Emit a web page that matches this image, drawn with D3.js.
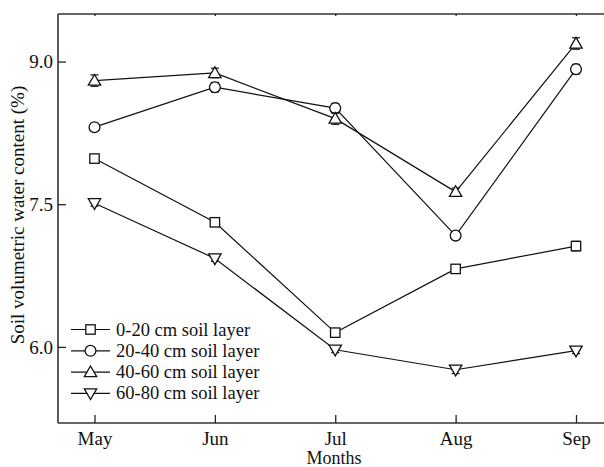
<!DOCTYPE html>
<html><head><meta charset="utf-8">
<script src="https://cdn.jsdelivr.net/npm/d3@7"></script>
<style>body{margin:0;background:#fff}svg{display:block}svg text{font-family:"Liberation Serif","DejaVu Serif",serif !important;fill:#111}</style>
</head><body><svg id="c" width="604" height="467"></svg>
<script>
const months = ["May","Jun","Jul","Aug","Sep"];
const seriesNames = ["0-20 cm soil layer","20-40 cm soil layer","40-60 cm soil layer","60-80 cm soil layer"];
const s0_20 = [7.98, 7.31, 6.15, 6.82, 7.06];
const s20_40 = [8.31, 8.73, 8.51, 7.17, 8.92];
const s40_60 = [8.80, 8.88, 8.40, 7.63, 9.19];
const s60_80 = [7.51, 6.93, 5.97, 5.76, 5.96];
const e0_20 = [0.03, 0.03, 0.03, 0.03, 0.05];
const e20_40 = [0.04, 0.05, 0.05, 0.03, 0.05];
const e40_60 = [0.06, 0.05, 0.06, 0.04, 0.06];
const e60_80 = [0.03, 0.03, 0.03, 0.04, 0.03];
const yTicks = [6.0, 7.5, 9.0];

const series = [
  {name: seriesNames[0], v: s0_20, e: e0_20, sym: "square"},
  {name: seriesNames[1], v: s20_40, e: e20_40, sym: "circle"},
  {name: seriesNames[2], v: s40_60, e: e40_60, sym: "up"},
  {name: seriesNames[3], v: s60_80, e: e60_80, sym: "down"}
];

const FONT = '"Liberation Serif","DejaVu Serif",serif';
const svg = d3.select("#c");
const L = 58, R = 604, T = 14, B = 423;
const x = d3.scalePoint().domain(months).range([94.5, 576]);
const y = d3.scaleLinear().domain([5.2, 9.5]).range([B, T]);

// axes
const gL = svg.append("g").attr("transform", `translate(${L},0)`)
  .call(d3.axisLeft(y).tickValues(yTicks).tickFormat(d3.format(".1f")).tickSizeInner(-8).tickSizeOuter(0).tickPadding(5));
const gB = svg.append("g").attr("transform", `translate(0,${B})`)
  .call(d3.axisBottom(x).tickSizeInner(-8).tickSizeOuter(0).tickPadding(9));
const gT = svg.append("g").attr("transform", `translate(0,${T})`)
  .call(d3.axisTop(x).tickSizeInner(-2).tickSizeOuter(0).tickFormat(""));
[gL, gB, gT].forEach(g => {
  g.attr("font-family", FONT).attr("font-size", 19);
  g.select(".domain").attr("stroke", "#333").attr("stroke-width", 1.6);
  g.selectAll(".tick line").attr("stroke", "#222").attr("stroke-width", 1.3);
  g.selectAll(".tick text").attr("font-family", FONT).attr("font-size", 19).attr("fill", "#111");
});
gL.select(".domain").attr("d", `M0,${B}V${T}`);
gB.select(".domain").attr("d", `M${L},0H${R}`);
gT.select(".domain").attr("d", `M${L},0H${R}`);

// axis titles
svg.append("text").attr("x", 334).attr("y", 464).attr("text-anchor", "middle").attr("font-family", FONT).attr("font-size", 18).text("Months");
svg.append("text").attr("transform", "translate(24,215) rotate(-90)").attr("text-anchor", "middle").attr("font-family", FONT).attr("font-size", 19).text("Soil volumetric water content (%)");

function drawMarker(g, sym, cx, cy) {
  if (sym === "circle") {
    g.append("circle").attr("cx", cx).attr("cy", cy).attr("r", 5.4).attr("fill", "#fff").attr("stroke", "#111").attr("stroke-width", 1.3);
  } else if (sym === "square") {
    g.append("rect").attr("x", cx - 4.7).attr("y", cy - 4.7).attr("width", 9.4).attr("height", 9.4).attr("fill", "#fff").attr("stroke", "#111").attr("stroke-width", 1.3);
  } else {
    const p = d3.symbol().type(d3.symbolTriangle).size(66)();
    g.append("path").attr("d", p)
      .attr("transform", `translate(${cx},${cy + (sym === "up" ? 1 : -1)}) rotate(${sym === "up" ? 0 : 180})`)
      .attr("fill", "#fff").attr("stroke", "#111").attr("stroke-width", 1.3);
  }
}

const line = d3.line().x((d, i) => x(months[i])).y(d => y(d));
series.forEach(s => {
  svg.append("path").datum(s.v).attr("d", line).attr("fill", "none").attr("stroke", "#111").attr("stroke-width", 1.2);
});
series.forEach(s => {
  const g = svg.append("g");
  s.v.forEach((v, i) => {
    const cx = x(months[i]);
    const y1 = y(v + s.e[i]), y2 = y(v - s.e[i]);
    g.append("line").attr("x1", cx).attr("x2", cx).attr("y1", y1).attr("y2", y2).attr("stroke", "#111").attr("stroke-width", 1.1);
    g.append("line").attr("x1", cx - 4).attr("x2", cx + 4).attr("y1", y1).attr("y2", y1).attr("stroke", "#111").attr("stroke-width", 1.2);
    g.append("line").attr("x1", cx - 4).attr("x2", cx + 4).attr("y1", y2).attr("y2", y2).attr("stroke", "#111").attr("stroke-width", 1.2);
    drawMarker(g, s.sym, cx, y(v));
  });
});

// legend
const lg = svg.append("g");
series.forEach((s, i) => {
  const cy = 329.5 + i * 21.3;
  lg.append("line").attr("x1", 71).attr("x2", 110).attr("y1", cy).attr("y2", cy).attr("stroke", "#111").attr("stroke-width", 1.2);
  drawMarker(lg, s.sym, 90.5, cy);
  lg.append("text").attr("x", 116).attr("y", cy + 6).attr("font-family", FONT).attr("font-size", 18.5).text(s.name);
});
</script></body></html>
